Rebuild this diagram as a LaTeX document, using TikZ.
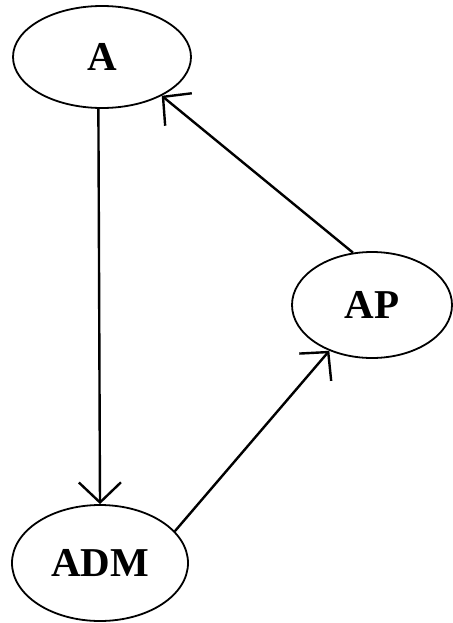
\documentclass[tikz,border=0pt]{standalone}
\usepackage{fontspec}
\setmainfont{Liberation Serif}
\usetikzlibrary{shapes.geometric,arrows.meta}
\begin{document}
\begin{tikzpicture}[x=1pt,y=-1pt,
  state/.style={ellipse,draw,line width=1.8pt,inner sep=0pt,
    font=\fontsize{41}{41}\selectfont\bfseries},
  link/.style={line width=2.4pt,-{Straight Barb[length=20pt,width=42pt,line width=2.4pt]}}]
\useasboundingbox[fill=white] (0,0) rectangle (452,623);
\node[state,minimum width=178pt,minimum height=102pt] (A) at (102,57) {A};
\node[state,minimum width=160pt,minimum height=106pt] (AP) at (372,305) {AP};
\node[state,minimum width=176pt,minimum height=116pt] (ADM) at (100,563) {ADM};
\draw[link] (A.-94) -- (ADM.north);
\draw[link] (ADM.23) -- (AP.-133);
\draw[link] (AP.110) -- (A.-33);
\end{tikzpicture}
\end{document}
